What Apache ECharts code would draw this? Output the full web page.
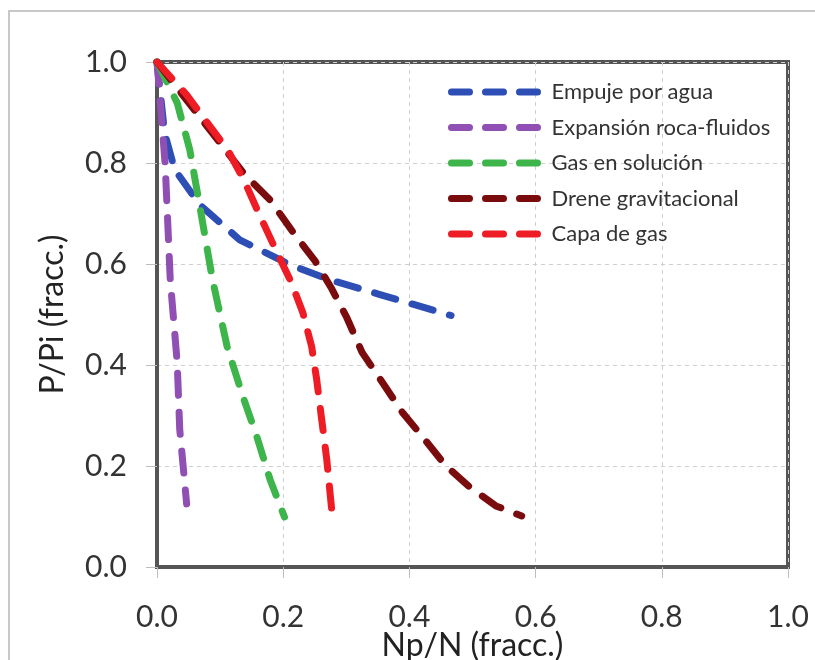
<!DOCTYPE html>
<html><head><meta charset="utf-8">
<script src="https://cdn.jsdelivr.net/npm/echarts@6/dist/echarts.min.js"></script>
<style>html,body{margin:0;padding:0;background:#fff}#c{width:815px;height:660px}</style>
</head><body><div id="c"></div>
<script>
const seriesNames = ["Empuje por agua", "Expansión roca-fluidos", "Gas en solución", "Drene gravitacional", "Capa de gas"];
const seriesColors = ["#2d4fb5", "#8f4fb3", "#3db54a", "#7a0c0e", "#ee1c24"];
const xTicks = [0, 0.2, 0.4, 0.6, 0.8, 1.0];

const xBlue = [0, 0.012, 0.028, 0.068, 0.131, 0.21, 0.273, 0.352, 0.466];
const yBlue = [1.0, 0.86, 0.787, 0.717, 0.648, 0.599, 0.569, 0.54, 0.498];

const xPurple = [0, 0.005, 0.013, 0.021, 0.032, 0.036, 0.047];
const yPurple = [1.0, 0.925, 0.796, 0.569, 0.405, 0.273, 0.125];

const xGreen = [0, 0.032, 0.052, 0.068, 0.088, 0.111, 0.136, 0.158, 0.179, 0.202];
const yGreen = [1.0, 0.919, 0.826, 0.713, 0.569, 0.437, 0.338, 0.259, 0.174, 0.099];

const xDarkRed = [0, 0.139, 0.179, 0.215, 0.251, 0.276, 0.30, 0.325, 0.357, 0.389, 0.42, 0.458, 0.494, 0.537, 0.578];
const yDarkRed = [1.0, 0.777, 0.727, 0.664, 0.605, 0.553, 0.496, 0.425, 0.366, 0.306, 0.259, 0.2, 0.16, 0.121, 0.101];

const xRed = [0, 0.047, 0.079, 0.112, 0.139, 0.160, 0.186, 0.213, 0.231, 0.245, 0.253, 0.261, 0.269, 0.278];
const yRed = [1.0, 0.935, 0.881, 0.826, 0.763, 0.704, 0.634, 0.563, 0.504, 0.437, 0.372, 0.292, 0.213, 0.099];

const allX = [xBlue, xPurple, xGreen, xDarkRed, xRed];
const allY = [yBlue, yPurple, yGreen, yDarkRed, yRed];

const FONT = "Lato";
const chart = echarts.init(document.getElementById('c'));
const series = seriesNames.map((n, i) => ({
  name: n,
  type: 'line',
  symbol: 'none',
  legendIcon: 'none',
  data: allX[i].map((x, k) => [x, allY[i][k]]),
  lineStyle: { color: seriesColors[i], width: 7, type: [22, 17], cap: 'round', join: 'round' },
  itemStyle: { color: seriesColors[i] },
  z: 3 + i
}));

const axisCommon = {
  type: 'value', min: 0, max: 1, interval: 0.2,
  axisLine: { show: true, lineStyle: { color: '#555555', width: 4 } },
  axisTick: { show: true, length: 11, lineStyle: { color: '#bdbdbd', width: 1 } },
  splitLine: { show: true, lineStyle: { color: '#cfcfcf', width: 1, type: [4, 4] } },
  axisLabel: { formatter: v => v.toFixed(1), fontFamily: FONT, fontSize: 30, color: '#333' },
  nameLocation: 'middle',
  nameMoveOverlap: false,
  nameTextStyle: { fontFamily: FONT, fontSize: 32, color: '#222' }
};

chart.setOption({
  animation: false,
  backgroundColor: '#fff',
  graphic: [{
    type: 'rect', shape: { x: 9, y: 11, width: 830, height: 680 },
    style: { fill: 'none', stroke: '#c8c8c8', lineWidth: 2 }, z: -10, silent: true
  }],
  grid: { left: 157, top: 62, right: 27, bottom: 93, containLabel: false, outerBoundsMode: 'none',
          show: true, borderColor: '#555555', borderWidth: 4, backgroundColor: 'transparent' },
  xAxis: Object.assign({}, axisCommon, {
    name: 'Np/N (fracc.)', nameGap: 63,
    axisLabel: Object.assign({}, axisCommon.axisLabel, { margin: 35 })
  }),
  yAxis: Object.assign({}, axisCommon, {
    name: 'P/Pi (fracc.)', nameGap: 88,
    axisLabel: Object.assign({}, axisCommon.axisLabel, { margin: 30 })
  }),
  legend: {
    orient: 'vertical', left: 443, top: 76, itemWidth: 95, itemHeight: 14, itemGap: 13.5,
    data: seriesNames,
    textStyle: { fontFamily: FONT, fontSize: 22, color: '#333' },
    itemStyle: { opacity: 0 },
    lineStyle: { width: 7, type: [18, 16], cap: 'round', opacity: 1 }
  },
  series: series
});
</script></body></html>
